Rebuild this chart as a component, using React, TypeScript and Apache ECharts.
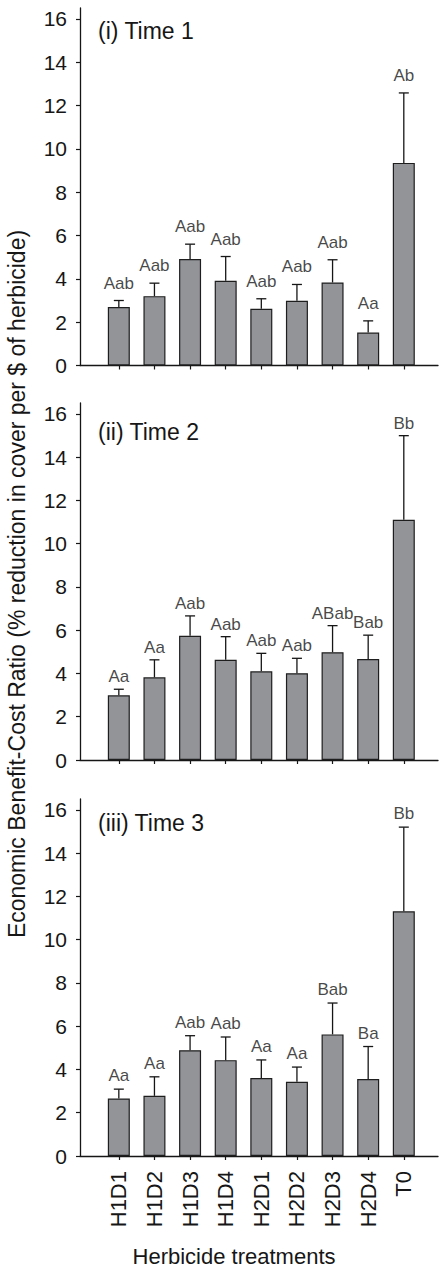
import React, { useEffect, useRef } from "react";
import * as echarts from "echarts";

const categories = ["H1D1", "H1D2", "H1D3", "H1D4", "H2D1", "H2D2", "H2D3", "H2D4", "T0"];
const yTicks = [0, 2, 4, 6, 8, 10, 12, 14, 16];
const panelTitles = ["(i) Time 1", "(ii) Time 2", "(iii) Time 3"];

const time1Means = [2.7, 3.2, 4.91, 3.91, 2.62, 2.99, 3.83, 1.52, 9.35];
const time1Upper = [3.0, 3.8, 5.6, 5.03, 3.08, 3.74, 4.88, 2.06, 12.58];
const time1Letters = ["Aab", "Aab", "Aab", "Aab", "Aab", "Aab", "Aab", "Aa", "Ab"];

const time2Means = [2.99, 3.82, 5.74, 4.63, 4.1, 4.01, 4.98, 4.67, 11.1];
const time2Upper = [3.27, 4.63, 6.66, 5.7, 4.93, 4.7, 6.21, 5.77, 14.99];
const time2Letters = ["Aa", "Aa", "Aab", "Aab", "Aab", "Aab", "ABab", "Bab", "Bb"];

const time3Means = [2.66, 2.78, 4.89, 4.43, 3.6, 3.43, 5.62, 3.56, 11.31];
const time3Upper = [3.09, 3.66, 5.56, 5.5, 4.44, 4.11, 7.07, 5.06, 15.2];
const time3Letters = ["Aa", "Aa", "Aab", "Aab", "Aa", "Aa", "Bab", "Ba", "Bb"];

const yTitle = "Economic Benefit-Cost Ratio (% reduction in cover per $ of herbicide)";
const xTitle = "Herbicide treatments";

const FONT = "'Liberation Sans', Arial, Helvetica, sans-serif";
const INK = "#161616";

export default function App() {
  const ref = useRef<HTMLDivElement>(null);

  useEffect(() => {
    document.body.style.margin = "0";
    if (!ref.current) return;
    const chart = echarts.init(ref.current, undefined, { renderer: "svg" });

    const panels = [
      { means: time1Means, upper: time1Upper, letters: time1Letters, top: 8, height: 357.5, labelDist: 9 },
      { means: time2Means, upper: time2Upper, letters: time2Letters, top: 403, height: 357, labelDist: 4 },
      { means: time3Means, upper: time3Upper, letters: time3Letters, top: 799, height: 357, labelDist: 5 },
    ];
    const titleY = [32, 433, 824];
    const xVals = categories.map((_, i) => i + 1);

    const grid = panels.map((p) => ({ left: 80, width: 358, top: p.top, height: p.height }));

    const xAxis = panels.map((_, gi) => ({
      type: "value",
      gridIndex: gi,
      min: -0.09,
      max: 9.96,
      splitLine: { show: false },
      axisLine: { show: true, onZero: false, lineStyle: { color: INK, width: 1.3 } },
      axisTick: { show: true, customValues: xVals, length: 4, lineStyle: { color: INK, width: 1.2 } },
      axisLabel: {
        show: gi === 2,
        customValues: xVals,
        rotate: 90,
        margin: 15,
        fontSize: 22,
        fontFamily: FONT,
        color: INK,
        formatter: (v: number) => categories[Math.round(v) - 1] ?? "",
      },
    }));

    const yAxis = panels.map((_, gi) => ({
      type: "value",
      gridIndex: gi,
      min: 0,
      max: 16.5,
      interval: 2,
      splitLine: { show: false },
      axisLine: { show: true, onZero: false, lineStyle: { color: INK, width: 1.3 } },
      axisTick: { show: true, customValues: yTicks, length: 4, lineStyle: { color: INK, width: 1.2 } },
      axisLabel: {
        customValues: yTicks,
        margin: 13,
        fontSize: 21,
        fontFamily: FONT,
        color: INK,
      },
    }));

    const series: any[] = [];
    panels.forEach((p, gi) => {
      series.push({
        type: "bar",
        xAxisIndex: gi,
        yAxisIndex: gi,
        barWidth: 22,
        data: p.means.map((v, i) => [i + 1, v]),
        itemStyle: { color: "#939498", borderColor: "#1e1e1e", borderWidth: 1.2 },
        silent: true,
      });
      series.push({
        type: "custom",
        xAxisIndex: gi,
        yAxisIndex: gi,
        z: 5,
        silent: true,
        data: p.means.map((v, i) => [i + 1, v, p.upper[i]]),
        renderItem: (params: any, api: any) => {
          const x = api.value(0);
          const p0 = api.coord([x, api.value(1)]);
          const p1 = api.coord([x, api.value(2)]);
          const style = { stroke: INK, lineWidth: 1.3 };
          return {
            type: "group",
            children: [
              { type: "line", shape: { x1: p0[0], y1: p0[1], x2: p1[0], y2: p1[1] }, style },
              { type: "line", shape: { x1: p1[0] - 5, y1: p1[1], x2: p1[0] + 5, y2: p1[1] }, style },
            ],
          };
        },
      });
      series.push({
        type: "scatter",
        xAxisIndex: gi,
        yAxisIndex: gi,
        symbolSize: 0,
        silent: true,
        data: p.upper.map((v, i) => [i + 1, v]),
        label: {
          show: true,
          position: "top",
          distance: p.labelDist,
          fontSize: 17,
          fontFamily: FONT,
          color: INK,
          formatter: (prm: any) => p.letters[prm.dataIndex],
        },
      });
    });

    const graphic: any[] = panelTitles.map((t, i) => ({
      type: "text",
      left: 98,
      top: titleY[i] - 13,
      style: { text: t, fontSize: 23, fontFamily: FONT, fill: INK },
    }));
    graphic.push({
      type: "text",
      x: 17,
      y: 584,
      rotation: Math.PI / 2,
      style: { text: yTitle, fontSize: 23, fontFamily: FONT, fill: INK, align: "center", verticalAlign: "middle" },
    });
    graphic.push({
      type: "text",
      x: 234,
      y: 1256,
      style: { text: xTitle, fontSize: 22, fontFamily: FONT, fill: INK, align: "center", verticalAlign: "middle" },
    });

    chart.setOption({
      animation: false,
      backgroundColor: "#ffffff",
      grid,
      xAxis,
      yAxis,
      series,
      graphic,
    });

    return () => chart.dispose();
  }, []);

  return <div ref={ref} style={{ width: 439, height: 1272 }} />;
}
